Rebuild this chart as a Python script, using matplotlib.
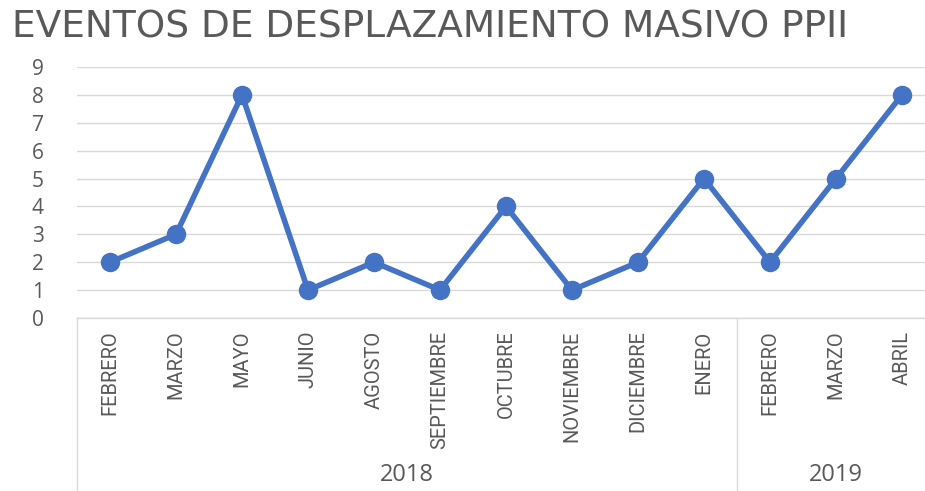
import matplotlib
matplotlib.use("Agg")
import matplotlib.pyplot as plt
import matplotlib.transforms as mtransforms

months = ["FEBRERO", "MARZO", "MAYO", "JUNIO", "AGOSTO", "SEPTIEMBRE", "OCTUBRE",
          "NOVIEMBRE", "DICIEMBRE", "ENERO", "FEBRERO", "MARZO", "ABRIL"]
values = [2, 3, 8, 1, 2, 1, 4, 1, 2, 5, 2, 5, 8]
years = ["2018", "2019"]
year_counts = [10, 3]
title = "EVENTOS DE DESPLAZAMIENTO MASIVO PPII"

W, H = 925, 491
fig = plt.figure(figsize=(W / 100, H / 100), dpi=100)
left, right = 77 / W, 1.0
bottom, top = 1 - 318 / H, 1 - 67 / H
ax = fig.add_axes([left, bottom, right - left, top - bottom])

gray_txt = "#595959"
grid_c = "#D9D9D9"
line_c = "#4472C4"

x = list(range(len(values)))
ax.plot(x, values, color=line_c, lw=4, marker="o", ms=13,
        markerfacecolor=line_c, markeredgecolor=line_c, solid_joinstyle="round",
        zorder=3, clip_on=False)

ax.set_ylim(0, 9)
ax.set_xlim(-0.5, 12.5 - 10 / 66)
ax.set_yticks(range(10))
ax.yaxis.grid(True, color=grid_c, lw=1)
ax.set_axisbelow(True)
for s in ["top", "right", "left"]:
    ax.spines[s].set_visible(False)
ax.spines["bottom"].set_color(grid_c)
ax.spines["bottom"].set_linewidth(1)
ax.tick_params(axis="y", length=0, pad=24, labelsize=15, labelcolor=gray_txt)
ax.tick_params(axis="x", length=0, pad=9)
for t in ax.get_yticklabels():
    t.set_fontfamily(["Open Sans", "DejaVu Sans"])

ax.set_xticks(x)
ax.set_xticklabels(months, rotation=90, va="top", ha="center",
                   fontsize=14.5, color=gray_txt,
                   family=["Roboto", "DejaVu Sans"])

# category boxes
trans = mtransforms.blended_transform_factory(ax.transData, ax.transAxes)
depth = -(H - 318) / (318 - 67)
bounds = [-0.5]
for c in year_counts:
    bounds.append(bounds[-1] + c)
for b in bounds[:-1]:
    ax.plot([b, b], [0, depth], transform=trans, color=grid_c, lw=1, clip_on=False)
start = -0.5
for yr, c in zip(years, year_counts):
    ax.text(start + c / 2, -0.625, yr, transform=trans, ha="center", va="center",
            fontsize=17, color=gray_txt, family=["Open Sans", "DejaVu Sans"])
    start += c

fig.text(12 / W, 1 - 28 / H, title, ha="left", va="center", fontsize=27,
         color=gray_txt, family=["DejaVu Sans"])

fig.savefig("out.png", dpi=100)
